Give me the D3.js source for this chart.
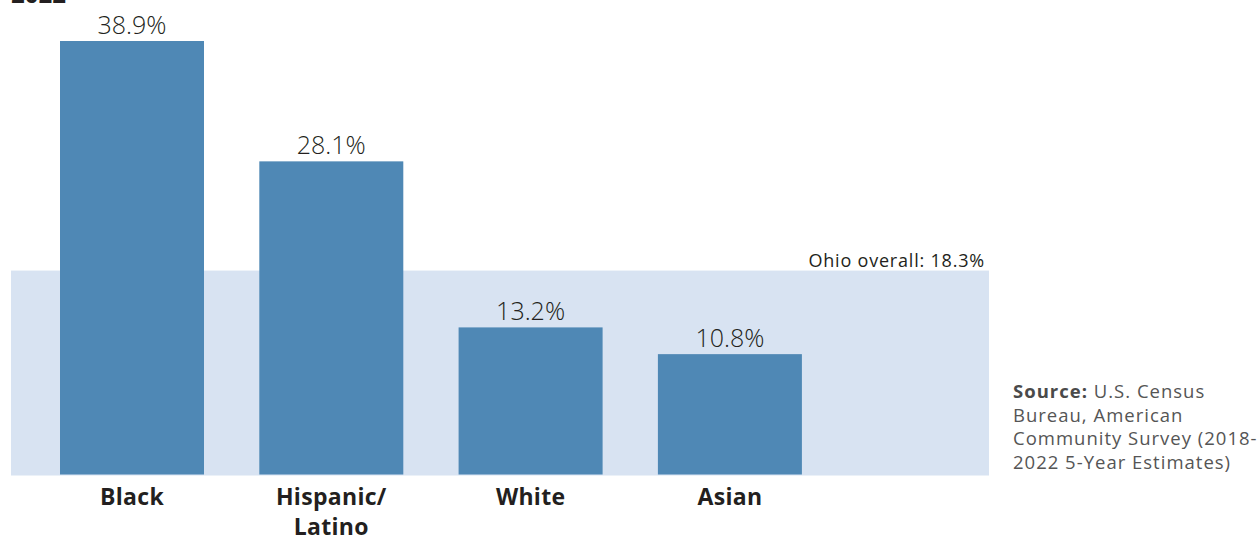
<!DOCTYPE html>
<html>
<head>
<meta charset="utf-8">
<script src="https://cdn.jsdelivr.net/npm/d3@7"></script>
<style>
  html, body { margin: 0; padding: 0; background: #ffffff; }
  svg { display: block; }
</style>
</head>
<body>
<svg id="chart" width="1260" height="537"></svg>
<script>
// Poverty rate by race / ethnicity, 2018-2022
const categories = ["Black", "Hispanic/\nLatino", "White", "Asian"];
const rates = [38.9, 28.1, 13.2, 10.8];
const stateRate = 18.3;
const stateLabel = "Ohio overall: ";
const titleYear = "2022";
const sourceLines = [
  ["Source:", " U.S. Census"],
  ["", "Bureau, American"],
  ["", "Community Survey (2018-"],
  ["", "2022 5-Year Estimates)"]
];

const svg = d3.select("#chart");
const baseY = 474.5;
const fontFamily = "'Open Sans', 'Lato', 'DejaVu Sans', sans-serif";

const x = d3.scaleBand()
  .domain(categories)
  .range([4.7, 857.2])
  .padding(0.2775);

const y = d3.scaleLinear()
  .domain([0, 38.9])
  .range([baseY, 41]);

// title year, mostly above the top edge
svg.append("text")
  .attr("x", 11)
  .attr("y", 3)
  .attr("font-family", fontFamily)
  .attr("font-weight", 700)
  .attr("font-size", 24)
  .attr("fill", "#231f20")
  .text(titleYear);

// state-wide reference band
svg.append("rect")
  .attr("x", 11)
  .attr("y", y(stateRate))
  .attr("width", 978)
  .attr("height", baseY + 1 - y(stateRate))
  .attr("fill", "#d8e3f2");

svg.append("text")
  .attr("x", 985)
  .attr("y", y(stateRate) - 4)
  .attr("text-anchor", "end")
  .attr("font-family", fontFamily)
  .attr("font-weight", 400)
  .attr("font-size", 18)
  .attr("letter-spacing", 0.8)
  .attr("fill", "#231f20")
  .text(stateLabel + stateRate.toFixed(1) + "%");

// bars
svg.selectAll("rect.bar")
  .data(categories)
  .join("rect")
  .attr("class", "bar")
  .attr("x", d => x(d))
  .attr("y", (d, i) => y(rates[i]))
  .attr("width", x.bandwidth())
  .attr("height", (d, i) => baseY - y(rates[i]))
  .attr("fill", "#4f88b5");

// value labels
svg.selectAll("text.value")
  .data(categories)
  .join("text")
  .attr("class", "value")
  .attr("x", d => x(d) + x.bandwidth() / 2)
  .attr("y", (d, i) => y(rates[i]) - 7)
  .attr("text-anchor", "middle")
  .attr("font-family", fontFamily)
  .attr("font-weight", 300)
  .attr("font-size", 25)
  .attr("fill", "#231f20")
  .text((d, i) => rates[i].toFixed(1) + "%");

// category axis labels
const xAxis = svg.append("g")
  .attr("transform", `translate(0,${baseY})`)
  .call(d3.axisBottom(x).tickSize(0).tickFormat(""));
xAxis.select(".domain").remove();

xAxis.selectAll(".tick").each(function(d) {
  const lines = d.split("\n");
  const t = d3.select(this).append("text")
    .attr("text-anchor", "middle")
    .attr("font-family", fontFamily)
    .attr("font-weight", 700)
    .attr("font-size", 23)
    .attr("letter-spacing", 0.3)
    .attr("fill", "#231f20");
  lines.forEach((ln, k) => {
    t.append("tspan")
      .attr("x", 0)
      .attr("y", 30.5 + k * 29.5)
      .text(ln);
  });
});

// source note
const src = svg.append("text")
  .attr("font-family", fontFamily)
  .attr("font-size", 18.5)
  .attr("letter-spacing", 1)
  .attr("fill", "#555555");
sourceLines.forEach((ln, k) => {
  const line = src.append("tspan")
    .attr("x", 1013)
    .attr("y", 398 + k * 23.5);
  if (ln[0]) {
    line.append("tspan").attr("font-weight", 700).attr("fill", "#4a4a4a").text(ln[0]);
  }
  line.append("tspan").text(ln[1]);
});
</script>
</body>
</html>
